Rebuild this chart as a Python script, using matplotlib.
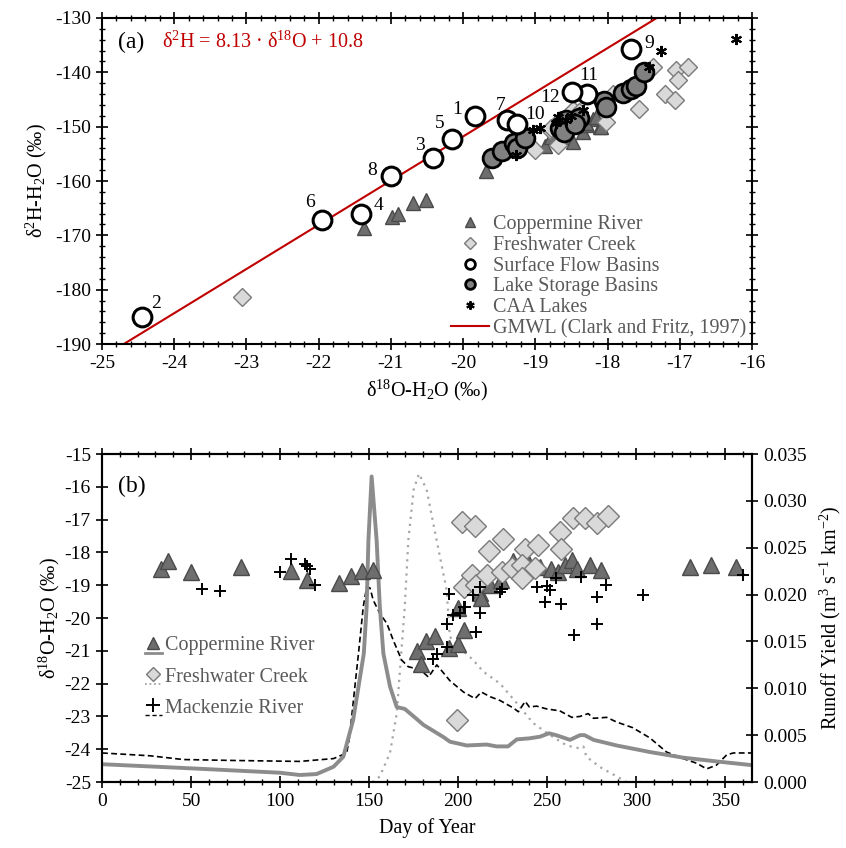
import matplotlib
matplotlib.use("Agg")
import matplotlib.pyplot as plt
from matplotlib.lines import Line2D
from matplotlib.legend_handler import HandlerBase
from matplotlib.ticker import MultipleLocator, FormatStrFormatter

plt.rcParams['font.family'] = ['Liberation Serif', 'DejaVu Serif']
plt.rcParams['mathtext.fontset'] = 'custom'
plt.rcParams['mathtext.rm'] = 'Liberation Serif'
plt.rcParams['mathtext.it'] = 'Liberation Serif:italic'
plt.rcParams['axes.unicode_minus'] = False

# ---------------- Panel (a) data ----------------
cop_a_x = [-21.37, -20.99, -20.90, -20.69, -20.51, -19.69, -18.87, -18.78, -18.53, -18.48,
           -18.34, -18.28, -18.20, -18.11, -18.30, -18.16, -18.09]
cop_a_y = [-168.6, -166.6, -166.0, -164.1, -163.5, -158.2, -153.6, -151.9, -151.9, -152.8,
           -150.9, -149.7, -148.5, -150.0, -149.4, -148.2, -150.0]

fw_a_x = [-23.06, -19.01, -18.69, -18.80, -18.66, -18.48, -18.39, -18.79, -18.02, -17.93,
          -17.56, -17.21, -17.07, -17.05, -16.89, -17.03, -17.37]
fw_a_y = [-181.4, -154.3, -153.3, -150.6, -148.8, -147.0, -147.3, -150.3, -149.2, -143.9,
          -146.8, -143.9, -145.1, -139.6, -139.0, -141.4, -139.0]

sfb_x = [-19.84, -24.44, -20.42, -21.41, -20.16, -21.95, -19.39, -21.00, -17.68, -19.26, -18.29, -18.49]
sfb_y = [-148.0, -185.0, -155.8, -166.0, -152.3, -167.1, -148.7, -159.0, -135.8, -149.5, -144.0, -143.6]
sfb_labels = ['1', '2', '3', '4', '5', '6', '7', '8', '9', '10', '11', '12']
# label offsets in pixels (style only)
sfb_offsets = [(-18, 6), (14, 13), (-13, 13), (17, 8), (-12, 16), (-12, 17), (-7, 14), (-19, 5),
               (19, 6), (18, 9), (2, 19), (-22, -6)]

lsb_x = [-19.60, -19.46, -19.30, -19.25, -19.15, -18.66, -18.57, -18.40, -18.60, -18.45,
         -18.05, -18.02, -17.78, -17.68, -17.60, -17.50]
lsb_y = [-155.8, -154.4, -153.0, -154.0, -152.0, -150.2, -148.8, -148.4, -151.0, -149.5,
         -145.3, -146.3, -143.8, -143.0, -142.6, -140.0]

caa_x = [-16.22, -17.26, -17.42, -18.94, -19.03, -19.27, -18.69, -18.57, -18.34, -18.71, -18.50]
caa_y = [-133.9, -136.0, -139.0, -150.3, -150.7, -155.2, -148.3, -148.7, -147.0, -149.4, -148.0]

gmwl_slope = 8.13
gmwl_intercept = 10.8

# ---------------- Panel (b) data ----------------
cop_b_day = [33, 37, 50, 78, 106, 115, 133, 140, 146, 152,
             177, 179, 182, 187, 195, 200, 200, 203, 212, 213, 218, 224, 231, 236, 240,
             246, 252, 256, 260, 264, 267, 274, 280, 330, 342, 356]
cop_b_d18o = [-18.5, -18.25, -18.6, -18.43, -18.57, -18.84, -18.92, -18.72, -18.57, -18.54,
              -21.0, -21.4, -20.7, -20.55, -20.9, -20.8, -19.7, -20.37, -19.25, -19.4, -19.0,
              -18.85, -18.25, -18.6, -18.35, -18.45, -18.5, -18.6, -18.38, -18.23, -18.5,
              -18.38, -18.55, -18.43, -18.38, -18.43]

fw_b_day = [199.5, 202, 209.5, 217.5, 225, 237.5, 245, 257, 258, 264.7, 271, 277.8, 284,
            203, 207.6, 210, 216, 224.5, 230, 235.7, 235.7, 243]
fw_b_d18o = [-23.1, -17.06, -17.19, -17.95, -17.6, -17.9, -17.77, -17.37, -17.9, -16.96,
             -16.96, -17.09, -16.89, -19.05, -18.69, -19.0, -18.69, -18.59, -18.49, -18.38,
             -18.79, -18.49]

mk_b_day = [56, 66, 100, 106, 114, 115, 117, 119.6, 186, 188, 193.5, 193.5, 195, 197, 201,
            203, 204, 208.5, 210, 212, 212, 223.5, 224.5, 244, 249, 249.7, 251.6, 255, 258,
            265, 269, 278, 278, 283, 303.6, 360]
mk_b_d18o = [-19.13, -19.18, -18.59, -18.21, -18.35, -18.41, -18.52, -18.99, -21.25, -21.1,
             -20.88, -20.17, -19.27, -19.9, -19.86, -19.66, -19.65, -19.3, -20.42, -19.05,
             -19.86, -19.2, -19.1, -19.05, -19.5, -19.03, -19.15, -18.79, -19.57, -20.53,
             -18.74, -19.35, -20.18, -18.99, -19.3, -18.69]

# Runoff yield hydrographs
cop_q_day = [0, 50, 100, 111, 120.5, 130, 135.5, 141, 147, 148.6, 149.6, 151.4, 154.2, 156,
             158, 161.7, 165.5, 170, 175, 180.5, 191.7, 195.4, 204.8, 216, 221.6, 228, 232.9,
             240, 246, 251, 255, 262.8, 268.4, 271, 276, 289, 307.7, 326.4, 345, 365]
cop_q = [0.0019, 0.00146, 0.00099, 0.00075, 0.00085, 0.00163, 0.0027, 0.0066, 0.0137, 0.0187,
         0.0258, 0.0326, 0.0258, 0.0187, 0.0137, 0.0102, 0.0080, 0.0078, 0.0070, 0.0061,
         0.0048, 0.0043, 0.0039, 0.0040, 0.0038, 0.0038, 0.00455, 0.00466, 0.00484, 0.0052,
         0.0050, 0.0045, 0.0050, 0.0050, 0.0045, 0.0039, 0.0032, 0.0026, 0.0022, 0.0018]

fw_q_day = [0, 152, 156, 161.7, 165.5, 168, 170, 172, 175, 178, 182.3, 186, 189.8, 193.5,
            195.3, 201, 208.5, 214, 223.5, 233, 242, 251.6, 261, 268, 270.3, 272, 279.6, 289,
            294.6, 365]
fw_q = [0.0, 0.0, 0.0006, 0.0031, 0.0073, 0.0137, 0.0187, 0.0258, 0.0312, 0.0329, 0.0312,
        0.0276, 0.0240, 0.0205, 0.0155, 0.0143, 0.0130, 0.0118, 0.0105, 0.0084, 0.0063,
        0.0050, 0.0039, 0.0036, 0.0038, 0.0027, 0.0016, 0.0006, 0.0, 0.0]

mk_q_day = [0, 27, 45.6, 73.7, 111, 130, 137.4, 139, 142, 144, 146.7, 148.6, 150.5, 152.3,
            156, 160, 163.6, 168.3, 172, 178.6, 183.3, 188, 195.4, 203, 209.5, 213, 218,
            223.5, 231, 233.8, 237.6, 240, 244, 249.7, 257, 263.8, 268.4, 273, 276, 283.4,
            289, 298, 307.7, 317, 326.4, 334, 339.5, 345, 350.8, 354.5, 365]
mk_q = [0.0031, 0.0028, 0.0024, 0.0023, 0.0022, 0.0025, 0.0031, 0.0048, 0.0102, 0.0137,
        0.0187, 0.0208, 0.0207, 0.0194, 0.0180, 0.0169, 0.0151, 0.0130, 0.0123, 0.0120,
        0.0112, 0.0125, 0.0108, 0.0096, 0.0089, 0.0096, 0.0091, 0.0087, 0.0079, 0.0075,
        0.0086, 0.0080, 0.0081, 0.0078, 0.0076, 0.0069, 0.0070, 0.0073, 0.0068, 0.0069,
        0.0064, 0.0058, 0.0047, 0.0032, 0.0025, 0.0020, 0.0014, 0.0018, 0.0029, 0.0031,
        0.0031]

# ---------------- styles ----------------
TRI_FC, TRI_EC = '#6e6e6e', '#4a4a4a'
DIA_FC, DIA_EC = '#d9d9d9', '#7a7a7a'
LSB_FC = '#808080'
RED = '#C00000'
LEG_TXT = '#595959'
COP_LINE = '#8c8c8c'
FW_LINE = '#a6a6a6'


def style_ticks(ax, minor=True):
    ax.tick_params(which='major', direction='inout', length=9, width=1.2, labelsize=14,
                   top=True, right=True)
    if minor:
        ax.tick_params(which='minor', direction='inout', length=5, width=1.0, top=True, right=True)
    for s in ax.spines.values():
        s.set_linewidth(1.5)


fig = plt.figure(figsize=(8.46, 8.48), dpi=100)

# ================= Panel (a) =================
axa = fig.add_axes([0.1206, 0.5943, 0.7683, 0.3845])
axa.set_xlim(-25, -16)
axa.set_ylim(-190, -130)
axa.xaxis.set_major_locator(MultipleLocator(1))
axa.xaxis.set_minor_locator(MultipleLocator(0.2))
axa.yaxis.set_major_locator(MultipleLocator(10))
axa.yaxis.set_minor_locator(MultipleLocator(2))
style_ticks(axa)

axa.axline((0, gmwl_intercept), slope=gmwl_slope, color=RED, lw=1.5, zorder=2)

axa.plot(cop_a_x, cop_a_y, ls='none', marker='^', ms=10, mfc=TRI_FC, mec=TRI_EC, mew=1.0, zorder=3)
axa.plot(fw_a_x, fw_a_y, ls='none', marker='D', ms=9.5, mfc=DIA_FC, mec=DIA_EC, mew=1.0, zorder=3)
axa.plot(lsb_x, lsb_y, ls='none', marker='o', ms=13.5, mfc=LSB_FC, mec='black', mew=2.0, zorder=4)
axa.plot(caa_x, caa_y, ls='none', marker=(6, 2, 0), ms=8, mec='black', mew=1.5, zorder=5)
axa.plot(sfb_x, sfb_y, ls='none', marker='o', ms=13.5, mfc='white', mec='black', mew=2.2, zorder=6)
for xv, yv, lab, off in zip(sfb_x, sfb_y, sfb_labels, sfb_offsets):
    axa.annotate(lab, (xv, yv), xytext=off, textcoords='offset pixels', ha='center', va='center',
                 fontsize=14, zorder=7)

axa.text(0.025, 0.925, '(a)', transform=axa.transAxes, fontsize=17, va='center', ha='left')
axa.text(0.093, 0.925, 'δ$^{2}$H = 8.13 · δ$^{18}$O + 10.8', transform=axa.transAxes,
         fontsize=14.5, color=RED, va='center', ha='left')

axa.set_xlabel('δ$^{18}$O-H$_{2}$O (‰)', fontsize=14.5, labelpad=4)
axa.set_ylabel('δ$^{2}$H-H$_{2}$O (‰)', fontsize=14.5, labelpad=4)

leg_handles_a = [
    Line2D([], [], ls='none', marker='^', ms=7, mfc=TRI_FC, mec=TRI_EC),
    Line2D([], [], ls='none', marker='D', ms=6, mfc=DIA_FC, mec=DIA_EC),
    Line2D([], [], ls='none', marker='o', ms=7, mfc='white', mec='black', mew=2),
    Line2D([], [], ls='none', marker='o', ms=7, mfc=LSB_FC, mec='black', mew=2),
    Line2D([], [], ls='none', marker=(6, 2, 0), ms=6, mec='black', mew=1.5),
    Line2D([], [], color=RED, lw=1.5),
]
leg_labels_a = ['Coppermine River', 'Freshwater Creek', 'Surface Flow Basins',
                'Lake Storage Basins', 'CAA Lakes', 'GMWL (Clark and Fritz, 1997)']
la = axa.legend(leg_handles_a, leg_labels_a, loc='lower right', frameon=False, fontsize=14.5,
                handlelength=1.85, handletextpad=0.2, labelspacing=0.08, borderpad=0.1,
                borderaxespad=0.2)
for t in la.get_texts():
    t.set_color(LEG_TXT)

# ================= Panel (b) =================
axb = fig.add_axes([0.1206, 0.0778, 0.7683, 0.3868])
axq = axb.twinx()
axb.set_zorder(axq.get_zorder() + 1)
axb.patch.set_visible(False)

axb.set_xlim(0, 365)
axb.set_ylim(-25, -15)
axq.set_ylim(0, 0.035)
axb.xaxis.set_major_locator(MultipleLocator(50))
axb.xaxis.set_minor_locator(MultipleLocator(10))
axb.yaxis.set_major_locator(MultipleLocator(1))
axq.yaxis.set_major_locator(MultipleLocator(0.005))
axq.yaxis.set_major_formatter(FormatStrFormatter('%.3f'))
axb.tick_params(which='major', direction='inout', length=9, width=1.2, labelsize=14, top=True, right=False)
axb.tick_params(which='minor', direction='inout', length=5, width=1.0, top=True)
axq.tick_params(which='major', direction='inout', length=9, width=1.2, labelsize=14)
for s in list(axb.spines.values()) + list(axq.spines.values()):
    s.set_linewidth(1.5)

axq.plot(fw_q_day, fw_q, color=FW_LINE, lw=1.6, ls=(0, (1, 2.2)), zorder=2)
axq.plot(mk_q_day, mk_q, color='black', lw=1.2, ls=(0, (3.5, 2)), zorder=2)
axq.plot(cop_q_day, cop_q, color=COP_LINE, lw=2.8, zorder=3)

axb.plot(cop_b_day, cop_b_d18o, ls='none', marker='^', ms=11, mfc=TRI_FC, mec=TRI_EC, mew=1.0, zorder=3)
axb.plot(fw_b_day, fw_b_d18o, ls='none', marker='D', ms=11, mfc=DIA_FC, mec=DIA_EC, mew=1.0, zorder=4)
axb.plot(mk_b_day, mk_b_d18o, ls='none', marker='+', ms=9, mec='black', mew=1.4, zorder=5)

axb.text(0.025, 0.9, '(b)', transform=axb.transAxes, fontsize=17, va='center', ha='left')
axb.set_xlabel('Day of Year', fontsize=14.5, labelpad=6)
axb.set_ylabel('δ$^{18}$O-H$_{2}$O (‰)', fontsize=14.5, labelpad=2)
axq.set_ylabel('Runoff Yield (m$^{3}$ s$^{-1}$ km$^{-2}$)', fontsize=14.5, labelpad=8)


class Pair:
    def __init__(self, mk, ln):
        self.mk = mk
        self.ln = ln


class HandlerMarkerLine(HandlerBase):
    def create_artists(self, legend, orig_handle, xdescent, ydescent, width, height, fontsize, trans):
        mk, ln = orig_handle.mk, orig_handle.ln
        x0 = -xdescent
        y0 = -ydescent
        line = Line2D([x0, x0 + width], [y0 - 0.15 * height] * 2, color=ln['color'], lw=ln['lw'],
                      ls=ln['ls'], transform=trans)
        mark = Line2D([x0 + width / 2], [y0 + 0.55 * height], ls='none', transform=trans, **mk)
        return [line, mark]


leg_b = [
    Pair(dict(marker='^', ms=9, mfc=TRI_FC, mec=TRI_EC), dict(color=COP_LINE, lw=2.0, ls='-')),
    Pair(dict(marker='D', ms=7, mfc=DIA_FC, mec=DIA_EC), dict(color=FW_LINE, lw=1.3, ls=(0, (1, 1.5)))),
    Pair(dict(marker='+', ms=10, mec='black', mew=1.4), dict(color='black', lw=1.0, ls=(0, (3, 2)))),
]
lb = axb.legend(leg_b, ['Coppermine River', 'Freshwater Creek', 'Mackenzie River'],
                handler_map={Pair: HandlerMarkerLine()}, loc='upper left',
                bbox_to_anchor=(0.05, 0.475), frameon=False, fontsize=14.5, handlelength=0.85,
                handletextpad=0.15, labelspacing=0.6, borderpad=0.0)
for t in lb.get_texts():
    t.set_color(LEG_TXT)

fig.savefig('out.png', dpi=100)
